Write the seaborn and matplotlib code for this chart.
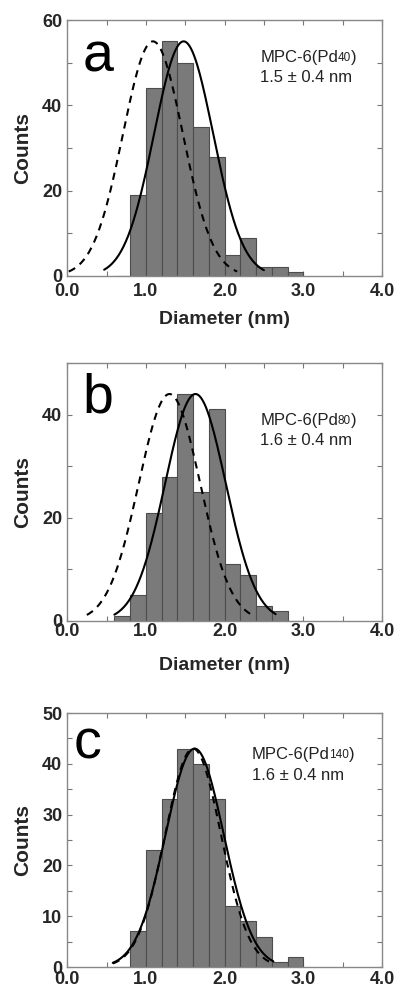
import numpy as np
import matplotlib
matplotlib.use('Agg')
import matplotlib.pyplot as plt
from matplotlib.ticker import MultipleLocator
import seaborn as sns

# histogram bins (nm) and counts
edges = [0.6, 0.8, 1.0, 1.2, 1.4, 1.6, 1.8, 2.0, 2.2, 2.4, 2.6, 2.8, 3.0]
counts_a = [0, 19, 44, 55, 50, 35, 28, 5, 9, 2, 2, 1]
counts_b = [1, 5, 21, 28, 44, 25, 41, 11, 9, 3, 2, 0]
counts_c = [0, 7, 23, 33, 43, 40, 33, 12, 9, 6, 1, 2]

# gaussian fits: (centre, amplitude, sigma, x_start, x_end)
fit_a = (1.48, 55, 0.375, 0.47, 2.50)
dash_a = (1.09, 55, 0.38, 0.02, 2.16)
fit_b = (1.63, 44, 0.385, 0.60, 2.65)
dash_b = (1.30, 44, 0.39, 0.25, 2.35)
fit_c = (1.62, 43, 0.37, 0.58, 2.62)
dash_c = (1.60, 43, 0.355, 0.58, 2.60)

letters = ['a', 'b', 'c']
samples = ['40', '80', '140']
sizes = ['1.5 \u00b1 0.4 nm', '1.6 \u00b1 0.4 nm', '1.6 \u00b1 0.4 nm']

sns.set_style('ticks')
plt.rcParams['font.family'] = ['Liberation Sans', 'DejaVu Sans']

fig = plt.figure(figsize=(3.95, 9.92), dpi=100)
ax_a = fig.add_axes([0.170, 0.7218, 0.797, 0.2580])
ax_b = fig.add_axes([0.170, 0.3740, 0.797, 0.2600])
ax_c = fig.add_axes([0.170, 0.0252, 0.797, 0.2560])

centers = [(edges[i] + edges[i + 1]) / 2 for i in range(len(edges) - 1)]


def gauss(p):
    mu, amp, sig, x0, x1 = p
    xs = np.linspace(x0, x1, 200)
    return xs, amp * np.exp(-(xs - mu) ** 2 / (2 * sig ** 2))


def label_text(ax, x, y, sample):
    # "MPC-6(Pd" + small sample number + ")"
    t1 = ax.text(x, y, 'MPC-6(Pd', transform=ax.transAxes, fontsize=12,
                 color='#222222', va='baseline')
    t2 = ax.annotate(sample, xy=(1, 0), xycoords=t1, xytext=(-0.3, 2.6),
                     textcoords='offset points', fontsize=8.5,
                     color='#222222', va='baseline')
    ax.annotate(')', xy=(1, 0), xycoords=t2, xytext=(0.0, 1.8),
                textcoords='offset points', fontsize=12,
                color='#222222', va='baseline')


# ax, counts, fit, dashed fit, ymax, major, minor, letter pos, text pos, xlabel pad (None = no label), x tick pad
panels = [
    (ax_a, counts_a, fit_a, dash_a, 60, 20, 10, (0.048, 0.80), (0.613, 0.837, 0.759), 8, 5),
    (ax_b, counts_b, fit_b, dash_b, 50, 20, 10, (0.048, 0.81), (0.613, 0.760, 0.683), 12, 1.5),
    (ax_c, counts_c, fit_c, dash_c, 50, 10, 5, (0.020, 0.82), (0.587, 0.819, 0.736), None, 3),
]

for i, (ax, counts, fit, dash, ymax, ymaj, ymin, lpos, tpos, xlpad, xpad) in enumerate(panels):
    sns.histplot(x=centers, weights=counts, bins=edges, ax=ax,
                 color='#7a7a7a', edgecolor='#4d4d4d', linewidth=0.8, alpha=1)
    xs, ys = gauss(dash)
    ax.plot(xs, ys, color='black', lw=1.5, linestyle=(0, (3.5, 2.8)))
    xs, ys = gauss(fit)
    sns.lineplot(x=xs, y=ys, ax=ax, color='black', lw=1.5)

    ax.set_xlim(0, 4)
    ax.set_ylim(0, ymax)
    ax.xaxis.set_major_locator(MultipleLocator(1.0))
    ax.xaxis.set_minor_locator(MultipleLocator(0.5))
    ax.yaxis.set_major_locator(MultipleLocator(ymaj))
    ax.yaxis.set_minor_locator(MultipleLocator(ymin))
    ax.set_xticklabels([f'{v:.1f}' for v in ax.get_xticks()])
    ax.tick_params(which='both', direction='in', top=True, right=True,
                   length=3.5, width=0.8, color='#777777', labelsize=13)
    ax.tick_params(axis='y', pad=3.5)
    ax.tick_params(axis='x', pad=xpad)
    for lab in ax.get_xticklabels() + ax.get_yticklabels():
        lab.set_fontweight('bold')
    for sp in ax.spines.values():
        sp.set_color('#888888')
        sp.set_linewidth(1.0)

    ax.set_ylabel('Counts', fontsize=15, fontweight='bold', labelpad=7)
    if xlpad is not None:
        ax.set_xlabel('Diameter (nm)', fontsize=14, fontweight='bold', labelpad=xlpad)
    else:
        ax.set_xlabel('')

    ax.text(lpos[0], lpos[1], letters[i], transform=ax.transAxes,
            fontsize=40, va='baseline', color='black')
    label_text(ax, tpos[0], tpos[1], samples[i])
    ax.text(tpos[0], tpos[2], sizes[i], transform=ax.transAxes,
            fontsize=12, color='#222222', va='baseline')

fig.savefig('out.png', dpi=100)
